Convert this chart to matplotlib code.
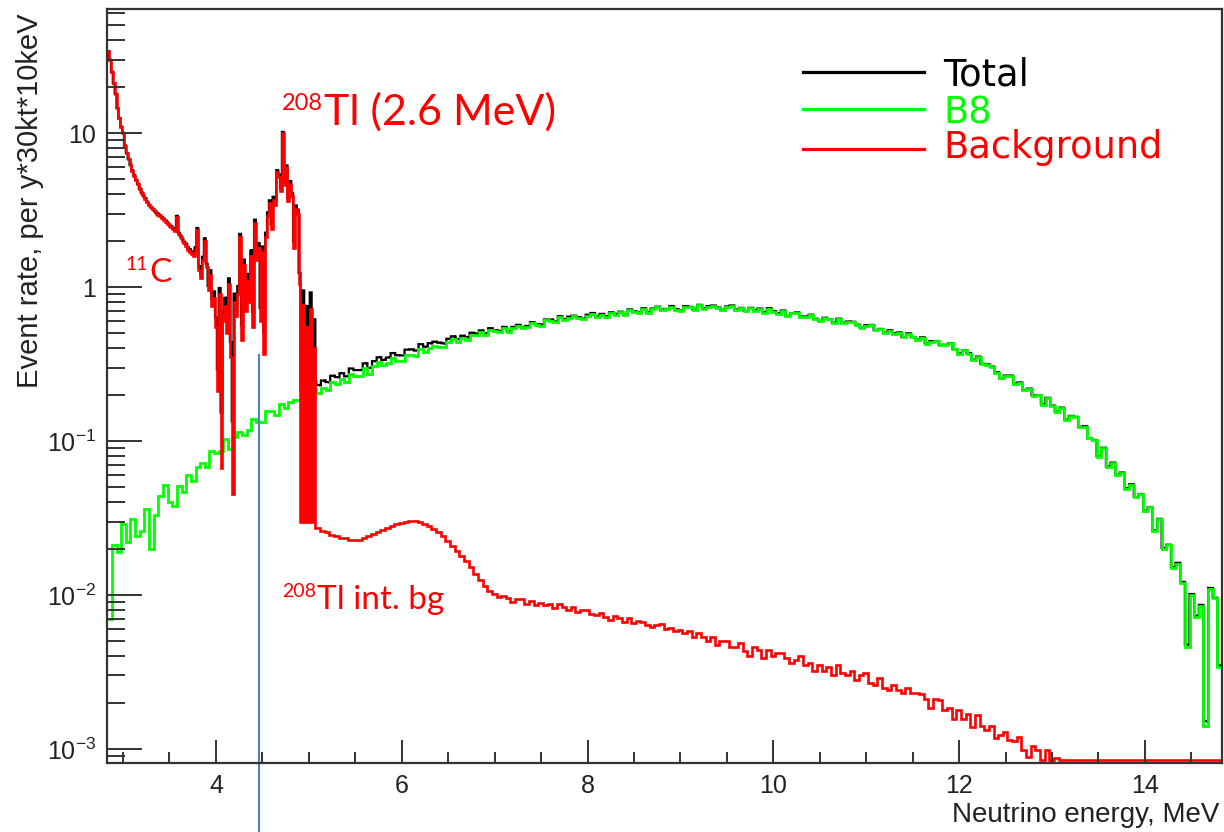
import numpy as np
import matplotlib
matplotlib.use("Agg")
import matplotlib.pyplot as plt
import matplotlib.transforms as mtransforms
from matplotlib.lines import Line2D
from matplotlib.ticker import MultipleLocator, LogLocator, NullFormatter

plt.rcParams['font.family'] = ['Liberation Sans', 'DejaVu Sans']
plt.rcParams['mathtext.fontset'] = 'custom'
plt.rcParams['mathtext.rm'] = 'Liberation Sans'
plt.rcParams['mathtext.it'] = 'Liberation Sans:italic'
plt.rcParams['mathtext.bf'] = 'Liberation Sans:bold'

# energy binning (MeV)
E_START = 2.83
B8_STEP = 0.05
BG_FINE_STEP = 0.02
BG_COARSE_STEP = 0.05

# B8 solar neutrino spectrum, 0.05 MeV bins from 2.83 MeV
b8 = [
    0.007, 0.021, 0.019, 0.029, 0.022, 0.031, 0.024, 0.026, 0.036, 0.020,
    0.033, 0.044, 0.052, 0.040, 0.038, 0.051, 0.047, 0.060, 0.055, 0.068,
    0.072, 0.068, 0.086, 0.083, 0.086, 0.103, 0.089, 0.106, 0.115, 0.109,
    0.118, 0.138, 0.132, 0.133, 0.156, 0.156, 0.148, 0.175, 0.165, 0.180,
    0.186, 0.184, 0.181, 0.203, 0.217, 0.204, 0.221, 0.216, 0.241, 0.236,
    0.252, 0.240, 0.273, 0.266, 0.266, 0.296, 0.274, 0.305, 0.324, 0.310,
    0.321, 0.344, 0.332, 0.330, 0.362, 0.364, 0.357, 0.396, 0.381, 0.404,
    0.415, 0.410, 0.407, 0.439, 0.458, 0.441, 0.465, 0.456, 0.490, 0.485,
    0.510, 0.490, 0.530, 0.515, 0.510, 0.541, 0.509, 0.542, 0.559, 0.539,
    0.550, 0.582, 0.564, 0.562, 0.607, 0.606, 0.589, 0.638, 0.612, 0.634,
    0.644, 0.630, 0.616, 0.653, 0.671, 0.637, 0.662, 0.640, 0.678, 0.663,
    0.685, 0.657, 0.709, 0.688, 0.680, 0.721, 0.678, 0.719, 0.739, 0.706,
    0.715, 0.747, 0.712, 0.700, 0.745, 0.738, 0.710, 0.761, 0.725, 0.747,
    0.754, 0.731, 0.708, 0.743, 0.755, 0.710, 0.728, 0.696, 0.729, 0.704,
    0.721, 0.681, 0.725, 0.692, 0.672, 0.700, 0.647, 0.674, 0.680, 0.640,
    0.640, 0.658, 0.619, 0.600, 0.629, 0.616, 0.585, 0.620, 0.583, 0.594,
    0.592, 0.567, 0.542, 0.562, 0.565, 0.524, 0.532, 0.503, 0.521, 0.498,
    0.505, 0.472, 0.498, 0.471, 0.454, 0.469, 0.429, 0.443, 0.444, 0.419,
    0.420, 0.431, 0.394, 0.370, 0.388, 0.370, 0.336, 0.352, 0.316, 0.313,
    0.303, 0.278, 0.255, 0.265, 0.265, 0.235, 0.239, 0.214, 0.218, 0.197,
    0.198, 0.172, 0.190, 0.169, 0.155, 0.164, 0.137, 0.145, 0.143, 0.123,
    0.124, 0.104, 0.101, 0.079, 0.090, 0.068, 0.072, 0.060, 0.062, 0.049,
    0.052, 0.043, 0.045, 0.035, 0.037, 0.026, 0.031, 0.020, 0.021, 0.015,
    0.016, 0.012, 0.0046, 0.010, 0.0072, 0.0085, 0.0014, 0.011, 0.0095, 0.0034,
]

# background, 0.02 MeV bins from 2.83 to 5.07 MeV (11C + 208Tl region)
bg_fine = [
    34, 30, 25, 21, 18, 14.5, 12.5, 11, 10, 8.3,
    7.4, 6.8, 6.2, 5.7, 5.3, 4.95, 4.65, 4.35, 4.1, 3.9,
    3.75, 3.55, 3.4, 3.3, 3.2, 3.1, 3.0, 2.95, 2.88, 2.8,
    2.72, 2.65, 2.58, 2.5, 2.45, 2.38, 2.3, 2.85, 2.2, 2.1,
    2.0, 1.92, 1.85, 1.75, 1.7, 1.65, 1.6, 1.75, 2.35, 1.3,
    1.15, 1.5, 2.0, 1.35, 0.95, 1.2, 0.75, 0.85, 0.55, 0.21,
    0.9, 0.067, 0.6, 0.75, 0.5, 1.05, 0.35, 0.045, 0.8, 0.65,
    0.9, 2.1, 0.45, 1.4, 0.7, 1.1, 0.8, 1.6, 0.55, 2.6,
    1.5, 1.8, 0.6, 1.7, 0.37, 2.1, 2.9, 3.5, 2.4, 3.7,
    3.4, 5.6, 5.2, 4.2, 10, 4.6, 6.0, 3.6, 4.7, 3.9,
    1.8, 3.2, 3.0, 1.05, 0.03, 0.77, 0.03, 0.55, 0.03, 0.72,
    0.03, 0.4,
]

# background, 0.05 MeV bins from 5.07 MeV (208Tl internal bg)
bg_coarse = [
    0.0272, 0.0262, 0.0255, 0.0246, 0.0241, 0.0236, 0.0233, 0.0229, 0.0228, 0.0229,
    0.0234, 0.0241, 0.0248, 0.0257, 0.0266, 0.0274, 0.0281, 0.0289, 0.0294, 0.0299,
    0.0302, 0.0301, 0.0297, 0.0291, 0.0281, 0.0269, 0.0255, 0.0240, 0.0225, 0.0209,
    0.0194, 0.0180, 0.0166, 0.0151, 0.0137, 0.0125, 0.0114, 0.0106, 0.0101, 0.0097,
    0.0099, 0.0095, 0.0090, 0.0094, 0.0094, 0.0088, 0.0091, 0.0086, 0.0089, 0.0086,
    0.0088, 0.0082, 0.0088, 0.0083, 0.0080, 0.0083, 0.0077, 0.0080, 0.0080, 0.0075,
    0.0074, 0.0076, 0.0072, 0.0069, 0.0073, 0.0071, 0.0067, 0.0071, 0.0066, 0.0068,
    0.0067, 0.0064, 0.0062, 0.0064, 0.0065, 0.0060, 0.0061, 0.0058, 0.0059, 0.0057,
    0.0058, 0.0053, 0.0057, 0.0053, 0.0050, 0.0053, 0.0047, 0.0050, 0.0050, 0.0046,
    0.0046, 0.0049, 0.0043, 0.0040, 0.0046, 0.0044, 0.0039, 0.0044, 0.0040, 0.0042,
    0.0042, 0.0039, 0.0036, 0.0038, 0.0040, 0.0035, 0.0036, 0.0032, 0.0035, 0.0032,
    0.0034, 0.0030, 0.0035, 0.0031, 0.0030, 0.0032, 0.0028, 0.0030, 0.0031, 0.0027,
    0.0026, 0.0029, 0.0025, 0.0024, 0.0026, 0.0024, 0.0023, 0.0025, 0.0023, 0.0023,
    0.00226, 0.0021, 0.00185, 0.0021, 0.00209, 0.0018, 0.00185, 0.00157, 0.00179, 0.00156,
    0.00168, 0.00139, 0.00165, 0.0014, 0.00133, 0.0014, 0.00117, 0.00123, 0.00129, 0.00114,
    0.00112, 0.0012, 0.00099, 0.00088, 0.00104, 0.00098, 0.00082, 0.00099, 0.00082, 0.00087,
    0.00079, 0.00075, 0.00072, 0.00068, 0.00065, 0.00062, 0.00058, 0.00055, 0.00052, 0.0005,
    0.00047, 0.00045, 0.00042, 0.0004, 0.00038, 0.00035, 0.00033, 0.00031, 0.00029, 0.00027,
    0.00025, 0.00024, 0.00022, 0.00021, 0.0002, 0.00018, 0.00017, 0.00016, 0.00015, 0.00014,
    0.00013, 0.00012, 0.00011, 0.0001, 0.00009,
]

E_CUT = 4.46          # analysis threshold line
XMIN, XMAX = 2.827, 14.83
YMIN, YMAX = 8.1e-4, 64.0

# bin edges
b8 = np.array(b8)
b8_edges = np.round(E_START + B8_STEP * np.arange(len(b8) + 1), 4)
fine_edges = E_START + BG_FINE_STEP * np.arange(len(bg_fine) + 1)
coarse_edges = fine_edges[-1] + BG_COARSE_STEP * np.arange(1, len(bg_coarse) + 1)
bg = np.array(bg_fine + bg_coarse)
bg_edges = np.round(np.concatenate([fine_edges, coarse_edges]), 4)

# total = B8 + background on the common set of edges
tot_edges = np.union1d(b8_edges, bg_edges)
centers = 0.5 * (tot_edges[:-1] + tot_edges[1:])
i_b8 = np.clip(np.searchsorted(b8_edges, centers) - 1, 0, len(b8) - 1)
i_bg = np.clip(np.searchsorted(bg_edges, centers) - 1, 0, len(bg) - 1)
total = b8[i_b8] + bg[i_bg]

# underflow drawn on the bottom edge of the frame
floor = YMIN * 1.04

fig = plt.figure(figsize=(12.24, 8.32), dpi=100)
ax = fig.add_axes([0.0874, 0.0829, 0.9110, 0.9063])

ax.stairs(np.maximum(total, floor), tot_edges, color='black', lw=1.6, baseline=None)
ax.stairs(np.maximum(b8, floor), b8_edges, color='#00ff00', lw=2.0, baseline=None)
ax.stairs(np.maximum(bg, floor), bg_edges, color='#ff0000', lw=1.9, baseline=None)

ax.set_yscale('log')
ax.set_xlim(XMIN, XMAX)
ax.set_ylim(YMIN, YMAX)

ax.set_xticks([4, 6, 8, 10, 12, 14])
ax.xaxis.set_minor_locator(MultipleLocator(0.5))
ax.set_yticks([1e-3, 1e-2, 1e-1, 1, 10],
              labels=[r'$\mathregular{10^{-3}}$', r'$\mathregular{10^{-2}}$',
                      r'$\mathregular{10^{-1}}$', '1', '10'])
ax.yaxis.set_minor_locator(LogLocator(base=10, subs=np.arange(2, 10)))
ax.yaxis.set_minor_formatter(NullFormatter())

ax.tick_params(axis='both', which='both', direction='in', color='#333333',
               width=1.4, labelcolor='#222222', labelsize=18)
ax.tick_params(axis='y', which='major', length=25, pad=8)
ax.tick_params(axis='y', which='minor', length=13)
ax.tick_params(axis='x', which='major', length=16.5, pad=8)
ax.tick_params(axis='x', which='minor', length=8)
for sp in ax.spines.values():
    sp.set_linewidth(1.6)
    sp.set_color('#333333')


def px(x, y):
    return x / 1224, 1 - y / 832


fig.text(*px(1219, 822), 'Neutrino energy, MeV', ha='right', va='baseline',
         fontsize=20, color='#222222')
fig.text(*px(30, 13), 'Event rate, per y*30kt*10keV', rotation=90,
         ha='center', va='top', fontsize=21, color='#222222')

# legend
legend_rows = [('Total', 'black', 72, 85), ('B8', '#00ff00', 109, 123),
               ('Background', '#ff0000', 149, 158)]
for label, col, yl, yt in legend_rows:
    x0, y0 = px(803, yl)
    x1, _ = px(924, yl)
    fig.add_artist(Line2D([x0, x1], [y0, y0], color=col, lw=2.3))
    fig.text(*px(943, yt), label, color=col, fontsize=26.5,
             family='DejaVu Sans', va='baseline', ha='left')

# isotope labels
ann = dict(color='#ff0000', family=['Lato', 'DejaVu Sans'], va='baseline')
fig.text(*px(323, 110), '208', ha='right', fontsize=17, **ann)
fig.text(*px(324, 125), 'Tl (2.6 MeV)', ha='left', fontsize=31, **ann)
fig.text(*px(148, 270), '11', ha='right', fontsize=14, **ann)
fig.text(*px(149, 282), 'C', ha='left', fontsize=24, **ann)
fig.text(*px(316, 597), '208', ha='right', fontsize=14, **ann)
fig.text(*px(317, 609), 'Tl int. bg', ha='left', fontsize=24, **ann)

# threshold marker running below the axis
blend = mtransforms.blended_transform_factory(ax.transData, fig.transFigure)
ax.plot([E_CUT, E_CUT], [1 - 355 / 832, 0.0], transform=blend, clip_on=False,
        color='#4f81bd', lw=1.5)

fig.savefig('out.png', dpi=100)
